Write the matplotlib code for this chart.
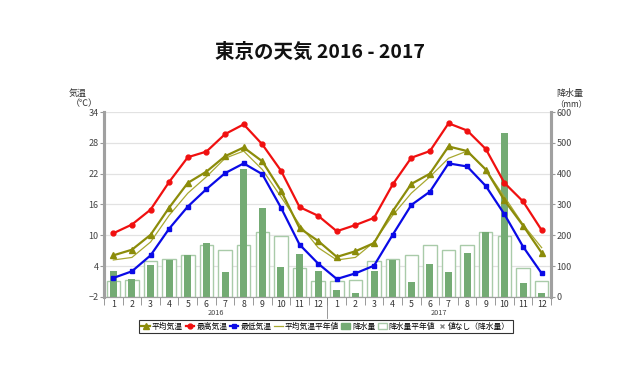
import matplotlib
matplotlib.use('Agg')
import matplotlib.pyplot as plt
from matplotlib.lines import Line2D
from matplotlib.patches import Patch
import numpy as np

plt.rcParams['font.family'] = ['Noto Sans CJK JP', 'DejaVu Sans']

# Tokyo monthly data, Jan 2016 - Dec 2017
months = [str(m) for m in range(1, 13)] * 2
years = ['2016', '2017']

temp_mean = [6.1, 7.2, 10.1, 15.4, 20.2, 22.4, 25.4, 27.1, 24.4, 18.7, 11.4, 8.9,
             5.8, 6.9, 8.5, 14.7, 20.0, 22.0, 27.3, 26.4, 22.8, 16.8, 11.9, 6.6]
temp_max = [10.4, 12.1, 15.0, 20.4, 25.2, 26.3, 29.7, 31.6, 27.7, 22.6, 15.5, 13.8,
            10.8, 12.0, 13.4, 19.9, 25.1, 26.4, 31.8, 30.4, 26.8, 20.2, 16.6, 11.0]
temp_min = [1.7, 3.0, 6.1, 11.3, 15.6, 19.0, 22.1, 24.0, 21.9, 15.4, 8.2, 4.5,
            1.5, 2.6, 4.1, 10.1, 15.9, 18.5, 24.0, 23.4, 19.6, 14.1, 7.8, 2.6]
temp_normal = [5.2, 5.7, 8.7, 13.9, 18.2, 21.4, 25.0, 26.4, 22.8, 17.5, 12.1, 7.6] * 2

precip = [85.0, 57.0, 103.0, 120.0, 137.5, 174.0, 81.5, 416.0, 287.5, 96.5, 139.0, 84.5,
          24.0, 14.5, 84.0, 120.5, 47.0, 107.0, 80.5, 141.5, 210.0, 531.5, 46.0, 14.5]
precip_normal = [52.3, 56.1, 117.5, 124.5, 137.8, 167.7, 153.5, 168.2, 209.9, 197.8, 92.5, 51.0] * 2

x = np.arange(len(months))

fig = plt.figure(figsize=(6.4, 3.84), dpi=100)
ax = fig.add_axes([0.1625, 0.2266, 0.6984, 0.4817])
ax2 = ax.twinx()
ax.set_zorder(ax2.get_zorder() + 1)
ax.patch.set_visible(False)

# precipitation bars (right axis)
ax2.bar(x, precip_normal, width=0.72, color='white', edgecolor='#a9cba9', linewidth=1.0, zorder=2)
ax2.bar(x, precip, width=0.38, color='#74ab74', edgecolor='none', zorder=3)
ax2.set_ylim(0, 600)
ax2.set_yticks(range(0, 601, 100))
ax2.yaxis.grid(True, color='#e2e2e2', linewidth=0.9, zorder=0)
ax2.set_axisbelow(True)

# temperature lines (left axis)
ax.plot(x, temp_normal, color='#a8a830', linewidth=0.9, zorder=4)
ax.plot(x, temp_max, color='#f01010', linewidth=1.6, marker='o', markersize=3.5, zorder=5)
ax.plot(x, temp_min, color='#0a0ae6', linewidth=1.6, marker='s', markersize=3.5, zorder=5)
ax.plot(x, temp_mean, color='#8c8c0a', linewidth=1.6, marker='^', markersize=4, zorder=6)
ax.set_ylim(-2, 34)
ax.set_yticks(range(-2, 35, 6))
ax.set_xlim(-0.5, len(months) - 0.5)

# x axis: month labels, separators between months
ax.set_xticks(x)
ax.set_xticklabels(months)
ax.set_xticks(np.arange(-0.5, len(months), 1), minor=True)
ax.tick_params(axis='x', which='major', length=0, labelsize=6.3, pad=2.5, labelcolor='#333333')
ax.tick_params(axis='x', which='minor', length=6, width=0.6, color='#888888')
ax.tick_params(axis='y', length=3, width=0.8, color='#999999', labelsize=6.5, labelcolor='#444444', pad=1)
ax2.tick_params(axis='y', length=3, width=0.8, color='#999999', labelsize=6.5, labelcolor='#444444', pad=1)

for a in (ax, ax2):
    a.spines['top'].set_visible(False)
    a.spines['left'].set_color('#a0a0a0')
    a.spines['left'].set_linewidth(2.2)
    a.spines['right'].set_color('#a0a0a0')
    a.spines['right'].set_linewidth(2.2)
    a.spines['bottom'].set_color('#a0a0a0')
    a.spines['bottom'].set_linewidth(0.8)

# year labels and divider
ax.plot([11.5, 11.5], [0, -0.115], transform=ax.get_xaxis_transform(), color='#888888',
        linewidth=0.6, clip_on=False)
for i, yr in enumerate(years):
    ax.text(5.5 + 12 * i, -0.088, yr, transform=ax.get_xaxis_transform(),
            ha='center', va='center', fontsize=5.3, color='#444444')

fig.text(0.121, 0.756, '気温', ha='center', va='center', fontsize=6.5, color='#333333')
fig.text(0.132, 0.731, '（℃）', ha='center', va='center', fontsize=6.5, color='#333333')
fig.text(0.890, 0.756, '降水量', ha='center', va='center', fontsize=6.5, color='#333333')
fig.text(0.892, 0.731, '（mm）', ha='center', va='center', fontsize=6.0, color='#333333')

fig.text(0.5, 0.865, '東京の天気 2016 - 2017', ha='center', va='center',
         fontsize=14, fontweight='bold', color='#111111')

handles = [
    Line2D([], [], color='#8c8c0a', linewidth=1.6, marker='^', markersize=4),
    Line2D([], [], color='#f01010', linewidth=1.6, marker='o', markersize=3.5),
    Line2D([], [], color='#0a0ae6', linewidth=1.6, marker='s', markersize=3.5),
    Line2D([], [], color='#a8a830', linewidth=0.9),
    Patch(facecolor='#74ab74', edgecolor='#74ab74'),
    Patch(facecolor='white', edgecolor='#a9cba9'),
    Line2D([], [], color='#888888', linestyle='none', marker='x', markersize=2.5),
]
labels = ['平均気温', '最高気温', '最低気温', '平均気温平年値', '降水量', '降水量平年値', '値なし（降水量）']
leg = fig.legend(handles, labels, loc='center', bbox_to_anchor=(0.509, 0.149), ncol=7,
                 fontsize=5.6, frameon=True, fancybox=False, edgecolor='black',
                 handlelength=1.1, handletextpad=0.25, columnspacing=0.35,
                 borderpad=0.3, borderaxespad=0, handleheight=0.8)
leg.get_frame().set_linewidth(0.8)

fig.savefig('out.png', dpi=100)
